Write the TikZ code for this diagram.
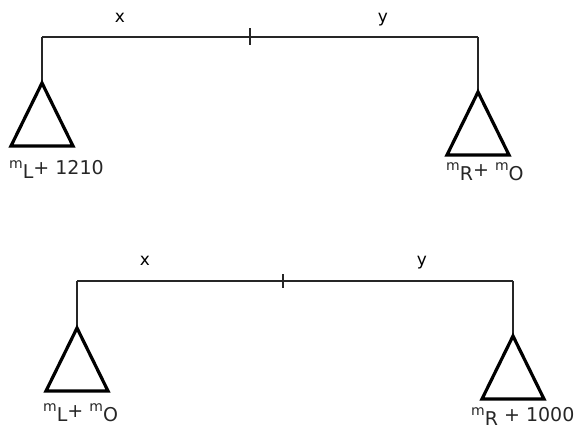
\documentclass[tikz,border=0pt]{standalone}
\usepackage{fontspec}
\setmainfont{DejaVu Sans}
\usepackage{tikz}
\usetikzlibrary{positioning}

% small raised m with lowered index
\newcommand{\massof}[1]{\raisebox{6pt}{\fontsize{14}{15}\selectfont m}\raisebox{-4pt}{#1}}

\begin{document}
\begin{tikzpicture}[
    x=1pt,y=-1pt,
    beam/.style={line width=1.5pt,black!85},
    pivot/.style={line width=2pt,black!85},
    pan/.style={line width=3.2pt,line join=miter},
    lbl/.style={font=\fontsize{17}{19}\selectfont,inner sep=0pt},
    mlbl/.style={font=\fontsize{19}{21}\selectfont,inner sep=0pt,anchor=base west,black!85}
  ]
  \useasboundingbox (0,0) rectangle (576,432);
  % hanging points, pan apexes
  \foreach \n/\px/\py/\ay in {uL/42/37/83,uR/478/37/92,lL/77/281/328,lR/513/281/336}{
    \coordinate (\n) at (\px,\py);
    \coordinate (\n a) at (\px,\ay);
    \draw[beam] (\n) -- (\n a);
    \draw[pan] (\n a) -- ++(-31,63) -- ++(62,0) -- cycle;
  }
  % upper balance
  \coordinate (uF) at (250,37);
  \draw[beam] (uL) -- (uR);
  \draw[pivot] ([yshift=9pt]uF) -- ([yshift=-8pt]uF);
  \node[lbl] (ux) at (120,18) {x};
  \node[lbl] (uy) at (383,20) {y};
  \node[mlbl] (uml) at (9,174) {\massof{L}+ 1210};
  \node[mlbl] (umr) at (446,176) {\massof{R}+ \massof{O}};
  % lower balance
  \coordinate (lF) at (283,281);
  \draw[beam] (lL) -- (lR);
  \draw[pivot] ([yshift=7pt]lF) -- ([yshift=-7pt]lF);
  \node[lbl] (lx) at (145,261) {x};
  \node[lbl] (ly) at (422,263) {y};
  \node[mlbl] (lml) at (43,417) {\massof{L}+ \massof{O}};
  \node[mlbl] (lmr) at (471,421) {\massof{R} + 1000};
\end{tikzpicture}
\end{document}
